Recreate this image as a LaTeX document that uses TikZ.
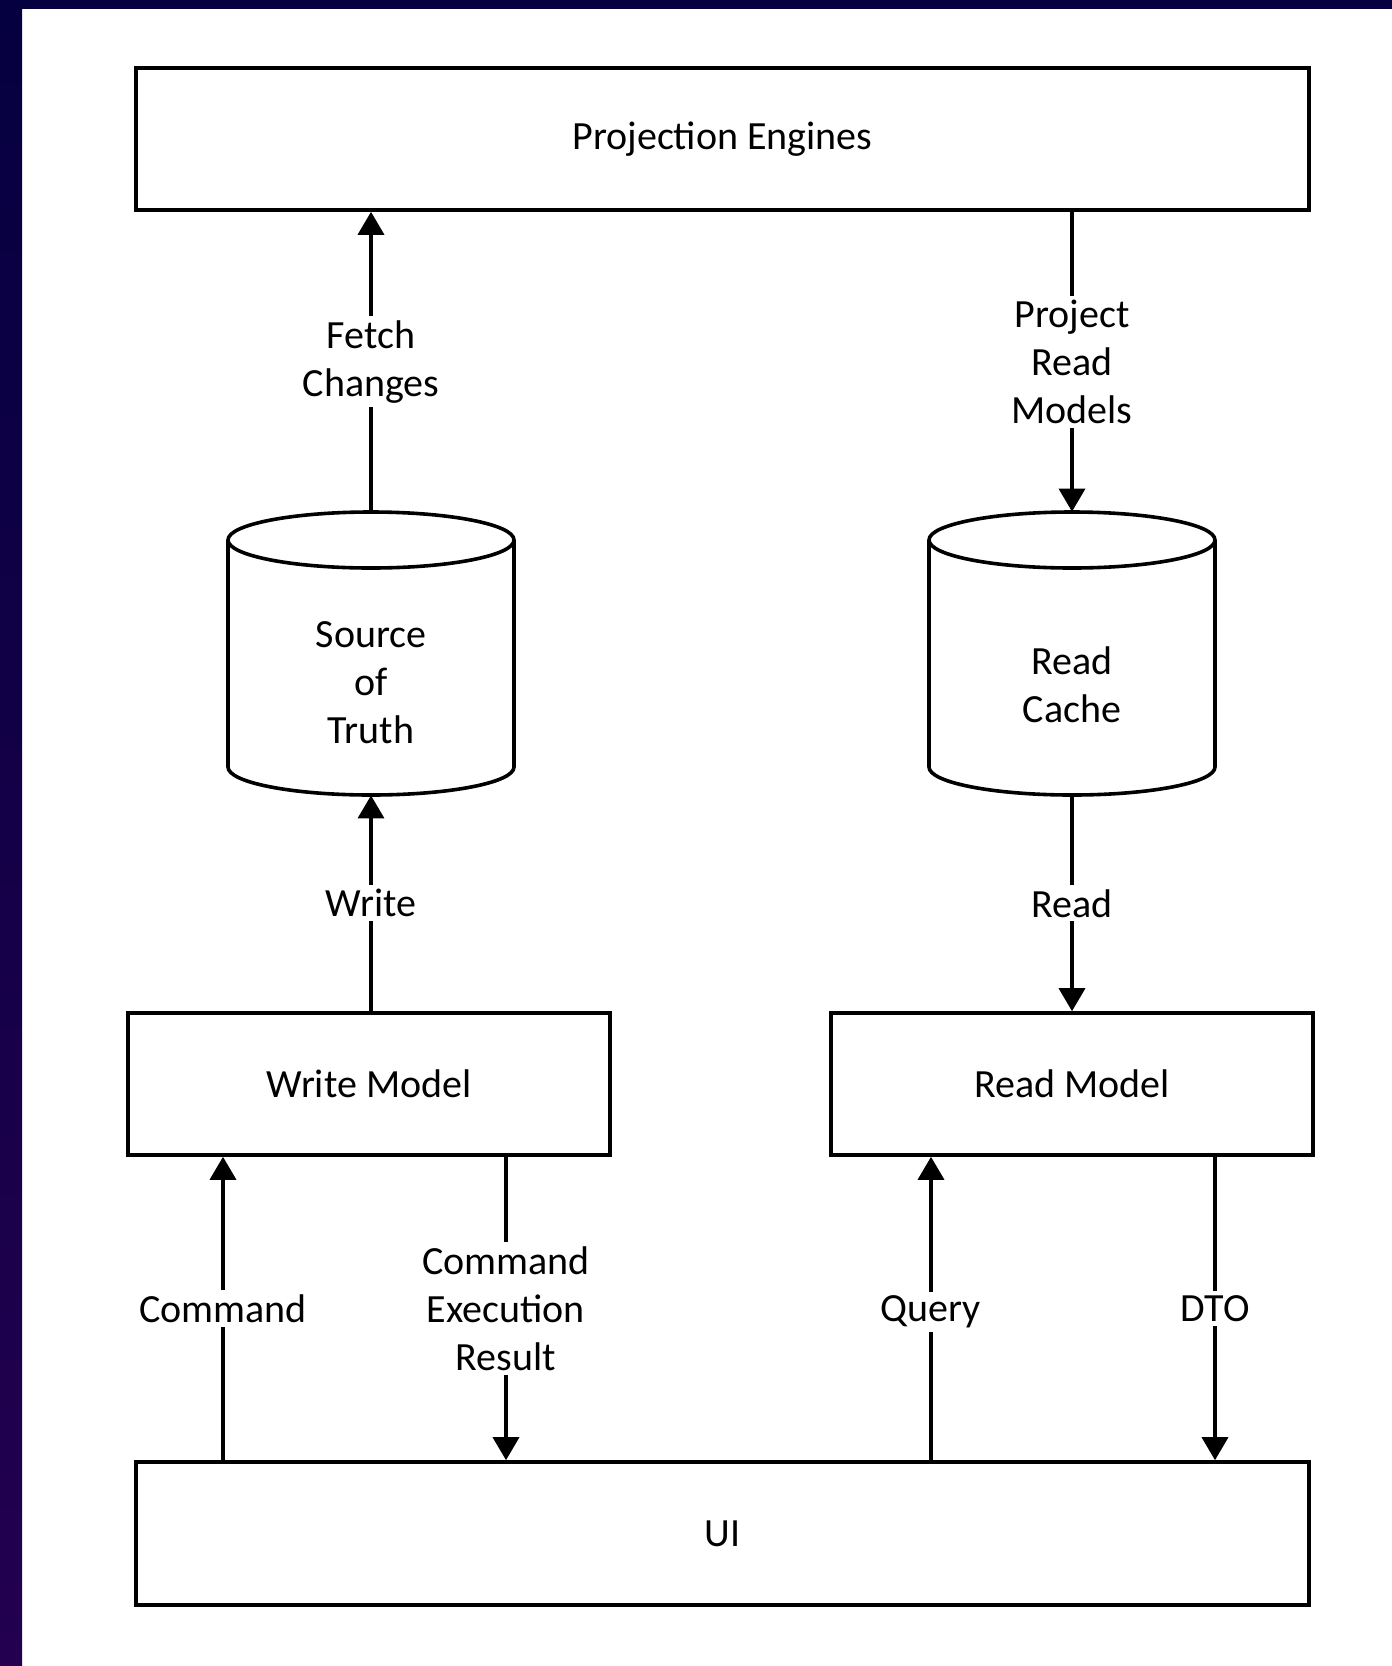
\documentclass[tikz,border=0pt]{standalone}
\usepackage{fontspec}
\setmainfont{Carlito}
\usetikzlibrary{arrows.meta}
\definecolor{frameA}{RGB}{5,0,64}
\definecolor{frameB}{RGB}{35,0,80}
\tikzset{
  box/.style={draw=black, line width=1.8pt, rectangle, fill=white, align=center,
    font=\fontsize{20}{24}\selectfont},
  cyltext/.style={align=center, font=\fontsize{20}{24}\selectfont},
  holder/.style={rectangle, inner sep=0pt},
  conn/.style={line width=1.8pt, draw=black},
  arr/.style={conn, -{Triangle[width=13pt,length=11.5pt]}},
  lbl/.style={fill=white, align=center, inner sep=2pt, font=\fontsize{20}{24}\selectfont},
  cylline/.style={line width=1.8pt, draw=black}
}
\begin{document}
\begin{tikzpicture}[x=0.5pt,y=-0.5pt]
\useasboundingbox (0,0) rectangle (1392,1666);
\fill[white] (0,0) rectangle (1392,1666);
\shade[top color=frameA, bottom color=frameB] (0,0) rectangle (22,1666);
\fill[frameA] (0,0) rectangle (1392,9);

% boxes
\node[box, minimum width=586.5pt, minimum height=71pt] (pe) at (722.5,139) {Projection Engines};
\node[box, minimum width=586.5pt, minimum height=71.5pt] (ui) at (722.5,1533.5) {UI};
\node[box, minimum width=241pt, minimum height=71pt] (wm) at (369,1084) {Write Model};
\node[box, minimum width=241pt, minimum height=71pt] (rm) at (1072,1084) {Read Model};

% cylinders
\node[holder, minimum width=143pt, minimum height=141.5pt] (sot) at (371,653.5) {};
\node[holder, minimum width=143pt, minimum height=141.5pt] (rc) at (1072,653.5) {};
\foreach \c in {371,1072}{
  \draw[cylline, fill=white] (\c-143,540) -- (\c-143,767)
     arc[start angle=180, end angle=0, x radius=143, y radius=28]
     -- (\c+143,540);
  \draw[cylline] (\c,540) ellipse [x radius=143, y radius=28];
}
\node[cyltext] (sott) at (371,683) {Source\\of\\Truth};
\node[cyltext] (rct) at (1072,685) {Read\\Cache};

% x positions of lower connectors
\coordinate (xcmd) at (223,0);
\coordinate (xcer) at (506,0);
\coordinate (xq) at (931,0);
\coordinate (xdto) at (1215,0);

% connectors
\draw[arr] (sot.north) -- node[lbl] {Fetch\\Changes} (sot.north |- pe.south);
\draw[arr] (rc.north |- pe.south) -- node[lbl] {Project\\Read\\Models} (rc.north);
\draw[arr] (sot.south |- wm.north) -- node[lbl] {Write} (sot.south);
\draw[arr] (rc.south) -- node[lbl] {Read} (rc.south |- rm.north);
\draw[arr] (xcmd |- ui.north) -- node[lbl] {Command} (xcmd |- wm.south);
\draw[arr] (xcer |- wm.south) -- node[lbl] {Command\\Execution\\Result} (xcer |- ui.north);
\draw[arr] (xq |- ui.north) -- node[lbl, yshift=-1.6pt] {Query} (xq |- rm.south);
\draw[arr] (xdto |- rm.south) -- node[lbl] {DTO} (xdto |- ui.north);
\end{tikzpicture}
\end{document}
